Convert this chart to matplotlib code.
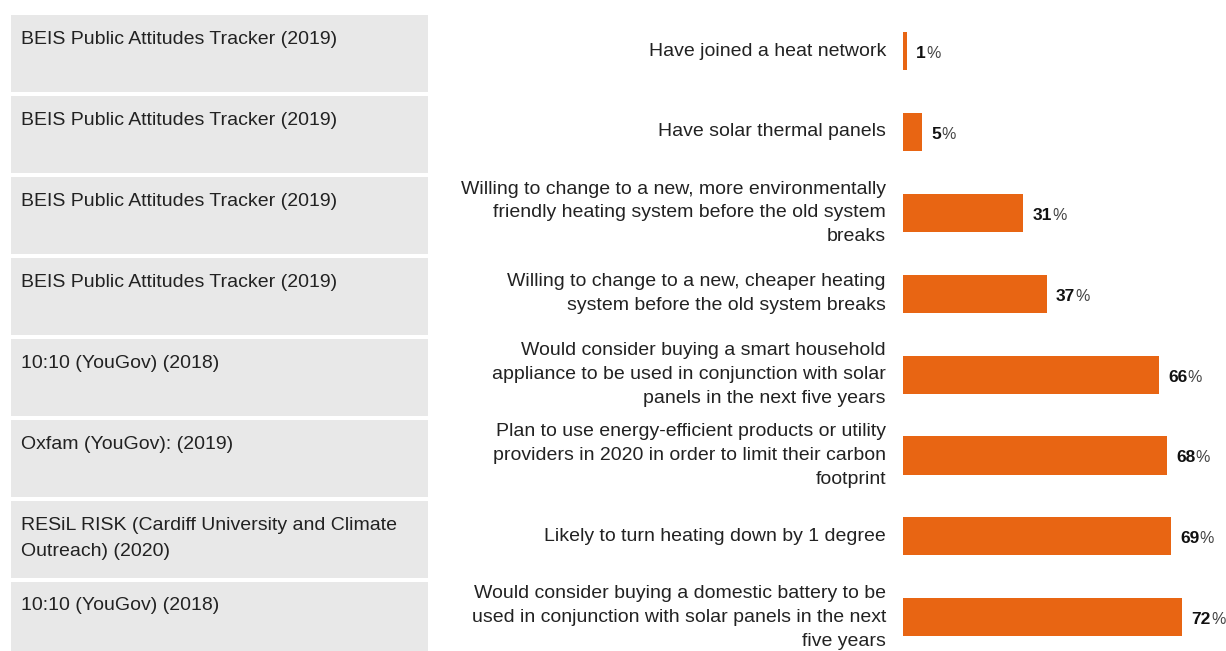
import matplotlib.pyplot as plt
from matplotlib.patches import Rectangle
import matplotlib.transforms as mtransforms

plt.rcParams['font.family'] = ['Liberation Sans', 'DejaVu Sans']

# data
sources = [
    "BEIS Public Attitudes Tracker (2019)",
    "BEIS Public Attitudes Tracker (2019)",
    "BEIS Public Attitudes Tracker (2019)",
    "BEIS Public Attitudes Tracker (2019)",
    "10:10 (YouGov) (2018)",
    "Oxfam (YouGov): (2019)",
    "RESiL RISK (Cardiff University and Climate\nOutreach) (2020)",
    "10:10 (YouGov) (2018)",
]
statements = [
    "Have joined a heat network",
    "Have solar thermal panels",
    "Willing to change to a new, more environmentally\nfriendly heating system before the old system\nbreaks",
    "Willing to change to a new, cheaper heating\nsystem before the old system breaks",
    "Would consider buying a smart household\nappliance to be used in conjunction with solar\npanels in the next five years",
    "Plan to use energy-efficient products or utility\nproviders in 2020 in order to limit their carbon\nfootprint",
    "Likely to turn heating down by 1 degree",
    "Would consider buying a domestic battery to be\nused in conjunction with solar panels in the next\nfive years",
]
values = [1, 5, 31, 37, 66, 68, 69, 72]

W, H = 1226, 651
fig = plt.figure(figsize=(W / 100, H / 100), dpi=100)
ax = fig.add_axes([903 / W, 0, 1 - 903 / W, 1])

pitch = 80.9
ax.set_ylim((H - 51) / pitch, -51 / pitch)
ax.set_xlim(0, (W - 903) / 3.88)
ax.axis('off')

ypos = list(range(len(values)))
orange = '#E86513'
ax.barh(ypos, values, height=0.47, color=orange)

# gray boxes on the left (x in figure coords, y in data coords)
trans = mtransforms.blended_transform_factory(fig.transFigure, ax.transData)
for y, src in zip(ypos, sources):
    ax.add_patch(Rectangle((11 / W, y - 0.44), (428 - 11) / W, 0.95,
                           transform=trans, facecolor='#E8E8E8',
                           edgecolor='none', clip_on=False))
    ax.text(21 / W, y - 0.245, src, transform=trans, ha='left', va='top',
            fontsize=14, color='#222222', linespacing=1.75)

for y, lab, v in zip(ypos, statements, values):
    ax.text(-4.4, y, lab, ha='right', va='center', fontsize=14,
            color='#222222', linespacing=1.52, clip_on=False)
    t = ax.text(v + 2.4, y + 0.03, str(v), ha='left', va='center', fontsize=12.5,
                fontweight='bold', color='#111111')
    ax.annotate('%', xy=(1, 0), xycoords=t, xytext=(0, 0),
                textcoords='offset points', ha='left', va='bottom',
                fontsize=11.5, color='#444444')

fig.savefig('out.png', dpi=100)
